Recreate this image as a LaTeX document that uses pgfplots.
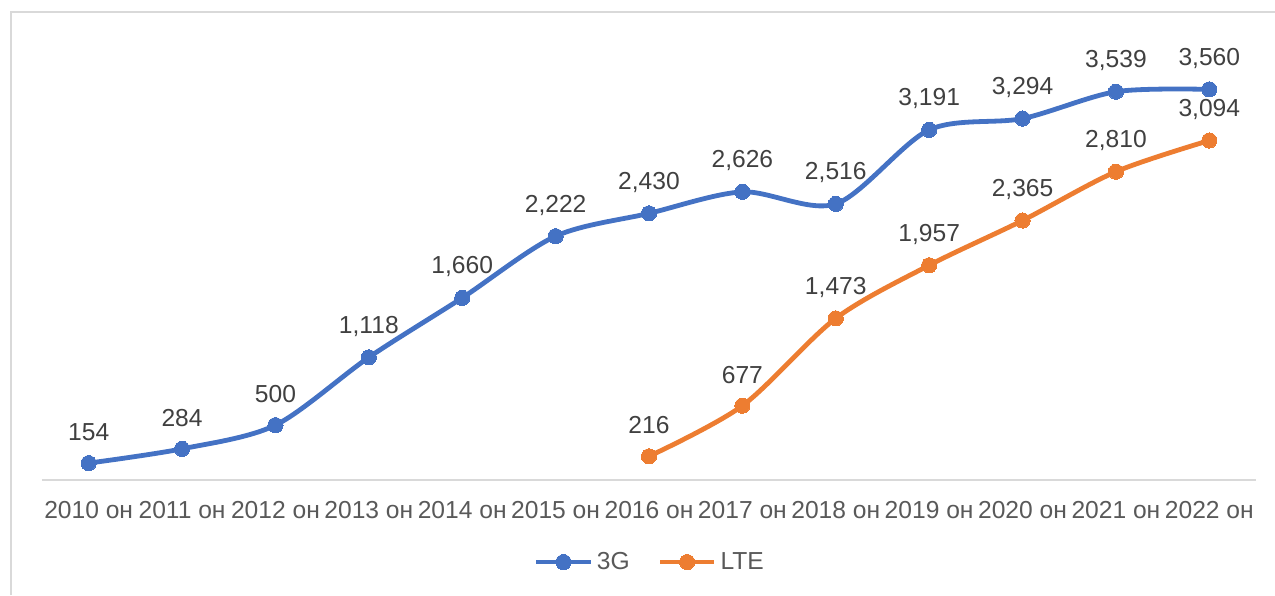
\documentclass[border=0pt]{standalone}
\usepackage{pgfplots}
\pgfplotsset{compat=1.18}
\usepackage{fontspec}
\setmainfont{Liberation Sans}
\definecolor{c3g}{HTML}{4472C4}
\definecolor{clte}{HTML}{ED7D31}
\definecolor{gridc}{HTML}{D9D9D9}
\definecolor{lblc}{HTML}{404040}
\definecolor{tickc}{HTML}{595959}
\begin{document}
\begin{tikzpicture}
\useasboundingbox (0,0) rectangle (637.5pt,297.5pt);
\draw[gridc,line width=0.65pt] (5.5pt,0) -- (5.5pt,291.5pt) -- (637.5pt,291.5pt);
\begin{axis}[
  at={(21pt,57.5pt)}, anchor=south west,
  scale only axis, width=607pt, height=219.45pt,
  xmin=-0.5, xmax=12.5, ymin=0, ymax=4000,
  clip=false,
  axis x line*=bottom, axis y line=none,
  x axis line style={gridc, line width=0.65pt, -},
  xtick={0,...,12},
  xticklabels={2010 он,2011 он,2012 он,2013 он,2014 он,2015 он,2016 он,2017 он,2018 он,2019 он,2020 он,2021 он,2022 он},
  major tick length=0pt,
  x tick label style={anchor=center, yshift=-15pt, font=\fontsize{12.3}{14}\selectfont, text=tickc},
  /pgf/number format/assume math mode=true,
  /pgf/number format/1000 sep={,},
  nodes near coords,
  nodes near coords style={anchor=center, yshift=15.5pt, font=\fontsize{12.3}{14}\selectfont, text=lblc},
  legend columns=2,
  legend style={at={(0.5016,-0.187)}, anchor=center, draw=none, fill=none,
    font=\fontsize{12.3}{14}\selectfont, text=tickc,
    /tikz/every even column/.append style={column sep=12pt}},
  legend image code/.code={\draw[#1] plot[mark repeat=2,mark phase=2] coordinates {(0pt,0pt) (13.5pt,0pt) (27pt,0pt)};},
]
\addplot[c3g, line width=2.4pt, smooth, mark=*, mark size=3.8pt, mark options={solid, fill=c3g, line width=0pt}] coordinates {
(0,154) (1,284) (2,500) (3,1118) (4,1660) (5,2222) (6,2430) (7,2626) (8,2516) (9,3191) (10,3294) (11,3539) (12,3560)};
\addlegendentry{3G}
\addplot[clte, line width=2.4pt, smooth, mark=*, mark size=3.8pt, mark options={solid, fill=clte, line width=0pt}] coordinates {
(6,216) (7,677) (8,1473) (9,1957) (10,2365) (11,2810) (12,3094)};
\addlegendentry{LTE}
\end{axis}
\end{tikzpicture}
\end{document}
